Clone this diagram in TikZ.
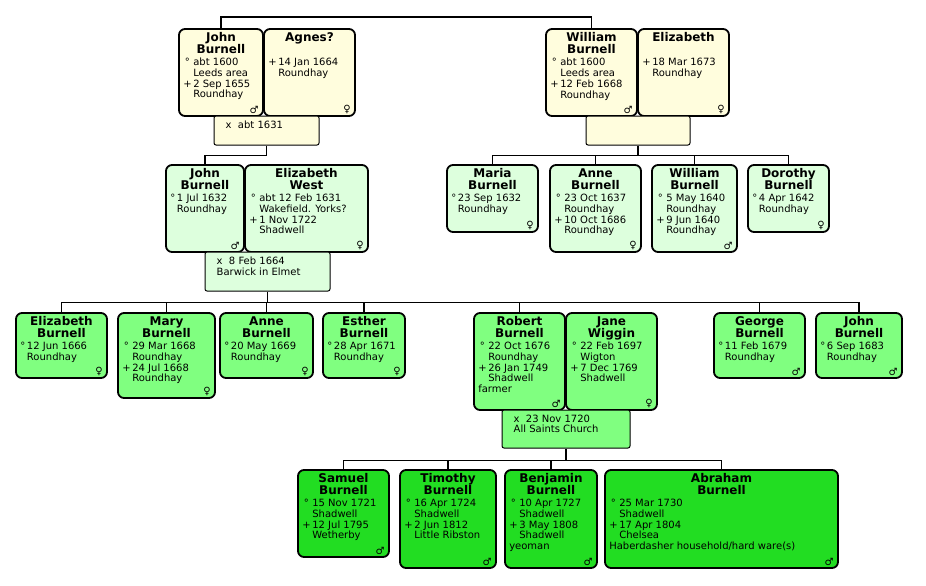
\documentclass[tikz,border=0pt]{standalone}
\usepackage{fontspec}
\setmainfont{DejaVu Sans}
\usetikzlibrary{fit}

\definecolor{genA}{HTML}{FFFDDD}
\definecolor{genB}{HTML}{DDFFDD}
\definecolor{genC}{HTML}{80FF80}
\definecolor{genD}{HTML}{22DD22}

\tikzset{
  person/.style={draw, line width=1.8pt, rounded corners=6pt, fill=#1, inner sep=0pt},
  wedding/.style={draw, line width=1pt, rounded corners=2pt, fill=#1, inner sep=0pt},
  pname/.style={anchor=north, align=center, inner sep=0pt,
    font=\fontsize{12}{12.5}\selectfont\bfseries},
  pinfo/.style={anchor=north west, inner sep=0pt,
    font=\fontsize{10}{10.5}\selectfont},
  psex/.style={anchor=south east, inner sep=0pt, font=\fontsize{10}{10}\selectfont},
  link/.style={line width=1.2pt}
}

% person box: id, x1, y1, x2, y2, colour, name, details, sex
\newcommand\pbox[9]{%
  \node[person=#6, fit={(#2,#3) (#4,#5)}] (#1) {};
  \node[pname] at ([yshift=-4]#1.north) {#7};
  \node[pinfo] at ([xshift=5,yshift=-30]#1.north west)
    {\begin{tabular}{@{}c@{\,}l@{}}#8\end{tabular}};
  \node[psex] at ([xshift=-5,yshift=3]#1.south east) {#9};
}
% wedding box: id, x1, y1, x2, y2, colour, text
\newcommand\wbox[7]{%
  \node[wedding=#6, fit={(#2,#3) (#4,#5)}] (#1) {};
  \node[pinfo] at ([xshift=12,yshift=-5]#1.north west)
    {\begin{tabular}{@{}l@{}}#7\end{tabular}};
}
\newcommand\occ[1]{\multicolumn{2}{@{}l@{}}{#1}}

\begin{document}
\begin{tikzpicture}[x=1pt,y=-1pt]
\useasboundingbox (0,0) rectangle (926,586);

% first generation
\pbox{johnA}{179}{29}{263}{116}{genA}{John\\Burnell}{° & abt 1600\\ & Leeds area\\+ & 2 Sep 1655\\ & Roundhay}{♂}
\pbox{agnes}{264}{29}{355}{116}{genA}{Agnes?}{+ & 14 Jan 1664\\ & Roundhay}{♀}
\wbox{wedA}{214}{116}{319}{145}{genA}{x\ \ abt 1631}
\pbox{william}{546}{29}{637}{116}{genA}{William\\Burnell}{° & abt 1600\\ & Leeds area\\+ & 12 Feb 1668\\ & Roundhay}{♂}
\pbox{elizA}{638}{29}{729}{116}{genA}{Elizabeth}{+ & 18 Mar 1673\\ & Roundhay}{♀}
\wbox{wedW}{586}{116}{690}{145}{genA}{}

\draw[link] (johnA.north) -- ++(0,-11) -| (william.north);

% second generation
\pbox{johnB}{166}{165}{244}{252}{genB}{John\\Burnell}{° & 1 Jul 1632\\ & Roundhay}{♂}
\pbox{elizW}{245}{165}{368}{252}{genB}{Elizabeth\\West}{° & abt 12 Feb 1631\\ & Wakefield. Yorks?\\+ & 1 Nov 1722\\ & Shadwell}{♀}
\wbox{wedB}{205}{252}{330}{291}{genB}{x\ \ 8 Feb 1664\\ Barwick in Elmet}
\pbox{maria}{447}{165}{538}{232}{genB}{Maria\\Burnell}{° & 23 Sep 1632\\ & Roundhay}{♀}
\pbox{anneB}{550}{165}{641}{252}{genB}{Anne\\Burnell}{° & 23 Oct 1637\\ & Roundhay\\+ & 10 Oct 1686\\ & Roundhay}{♀}
\pbox{willB}{652}{165}{737}{252}{genB}{William\\Burnell}{° & 5 May 1640\\ & Roundhay\\+ & 9 Jun 1640\\ & Roundhay}{♂}
\pbox{dorothy}{748}{165}{829}{232}{genB}{Dorothy\\Burnell}{° & 4 Apr 1642\\ & Roundhay}{♀}

\draw[link] (wedA.south) -- ++(0,10) -| (johnB.north);
\draw[link] (wedW.south) -- ++(0,10) coordinate (busW);
\draw[link] (maria.north) |- (busW) -| (dorothy.north);
\foreach \kid in {anneB,willB} \draw[link] (\kid.north) -- (\kid.north |- busW);

% third generation
\pbox{elizC}{16}{313}{107}{378}{genC}{Elizabeth\\Burnell}{° & 12 Jun 1666\\ & Roundhay}{♀}
\pbox{mary}{118}{313}{215}{398}{genC}{Mary\\Burnell}{° & 29 Mar 1668\\ & Roundhay\\+ & 24 Jul 1668\\ & Roundhay}{♀}
\pbox{anneC}{220}{313}{313}{378}{genC}{Anne\\Burnell}{° & 20 May 1669\\ & Roundhay}{♀}
\pbox{esther}{323}{313}{405}{378}{genC}{Esther\\Burnell}{° & 28 Apr 1671\\ & Roundhay}{♀}
\pbox{robert}{474}{313}{565}{410}{genC}{Robert\\Burnell}{° & 22 Oct 1676\\ & Roundhay\\+ & 26 Jan 1749\\ & Shadwell\\\occ{farmer}}{♂}
\pbox{jane}{566}{313}{657}{410}{genC}{Jane\\Wiggin}{° & 22 Feb 1697\\ & Wigton\\+ & 7 Dec 1769\\ & Shadwell}{♀}
\wbox{wedC}{502}{410}{630}{448}{genC}{x\ \ 23 Nov 1720\\ All Saints Church}
\pbox{george}{714}{313}{805}{378}{genC}{George\\Burnell}{° & 11 Feb 1679\\ & Roundhay}{♂}
\pbox{johnC}{816}{313}{902}{378}{genC}{John\\Burnell}{° & 6 Sep 1683\\ & Roundhay}{♂}

\draw[link] (wedB.south) -- ++(0,11) coordinate (busB);
\draw[link] (elizC.north) |- (busB) -| (johnC.north);
\foreach \kid in {mary,anneC,esther,robert,george} \draw[link] (\kid.north) -- (\kid.north |- busB);

% fourth generation
\pbox{samuel}{298}{470}{389}{557}{genD}{Samuel\\Burnell}{° & 15 Nov 1721\\ & Shadwell\\+ & 12 Jul 1795\\ & Wetherby}{♂}
\pbox{timothy}{400}{470}{496}{568}{genD}{Timothy\\Burnell}{° & 16 Apr 1724\\ & Shadwell\\+ & 2 Jun 1812\\ & Little Ribston}{♂}
\pbox{benjamin}{505}{470}{597}{568}{genD}{Benjamin\\Burnell}{° & 10 Apr 1727\\ & Shadwell\\+ & 3 May 1808\\ & Shadwell\\\occ{yeoman}}{♂}
\pbox{abraham}{605}{470}{838}{568}{genD}{Abraham\\Burnell}{° & 25 Mar 1730\\ & Shadwell\\+ & 17 Apr 1804\\ & Chelsea\\\occ{Haberdasher household/hard ware(s)}}{♂}

\draw[link] (wedC.south) -- ++(0,12) coordinate (busC);
\draw[link] (samuel.north) |- (busC) -| (abraham.north);
\foreach \kid in {timothy,benjamin} \draw[link] (\kid.north) -- (\kid.north |- busC);
\end{tikzpicture}
\end{document}
